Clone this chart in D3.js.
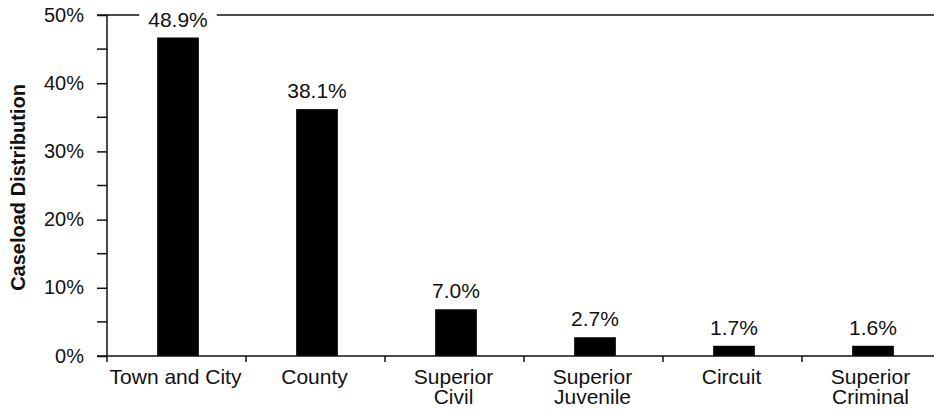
<!DOCTYPE html>
<html>
<head>
<meta charset="utf-8">
<script src="https://cdn.jsdelivr.net/npm/d3@7"></script>
<style>
  html, body { margin: 0; padding: 0; background: #fff; }
  svg { display: block; font-family: "Liberation Sans", Arial, sans-serif; }
</style>
</head>
<body>
<svg id="chart" width="934" height="410"></svg>
<script>
// ---- data ----
const categories = ["Town and City", "County", "Superior Civil", "Superior Juvenile", "Circuit", "Superior Criminal"];
const categoryLines = [["Town and City"], ["County"], ["Superior", "Civil"], ["Superior", "Juvenile"], ["Circuit"], ["Superior", "Criminal"]];
const barValues = [46.7, 36.2, 6.85, 2.75, 1.5, 1.5];
const valueLabels = ["48.9%", "38.1%", "7.0%", "2.7%", "1.7%", "1.6%"];
const yTickValues = [0, 10, 20, 30, 40, 50];
const yMinorTicks = [5, 15, 25, 35, 45];
const yTitle = "Caseload Distribution";

// ---- layout ----
const mLeft = 107, mRight = 941, mTop = 15, mBottom = 356;
const svg = d3.select("#chart");

const x = d3.scaleBand().domain(categories).range([mLeft, mRight]).padding(0);
const y = d3.scaleLinear().domain([0, 50]).range([mBottom, mTop]);
const bw = x.bandwidth();
const barW = bw * 0.3;

// top reference line at 50%
svg.append("line")
  .attr("x1", mLeft - 10).attr("x2", 934)
  .attr("y1", y(50)).attr("y2", y(50))
  .attr("stroke", "#111").attr("stroke-width", 1.5);

// bars
svg.selectAll("rect.bar").data(categories).enter().append("rect")
  .attr("class", "bar")
  .attr("x", (d) => x(d) + (bw - barW) / 2 + 1.5)
  .attr("width", barW)
  .attr("y", (d, i) => y(barValues[i]))
  .attr("height", (d, i) => y(0) - y(barValues[i]))
  .attr("fill", "#000");

// y axis
const yAxis = d3.axisLeft(y).tickValues(yTickValues).tickSize(10).tickPadding(13)
  .tickFormat((d) => d + "%");
const gy = svg.append("g").attr("transform", `translate(${mLeft},0)`).call(yAxis);
gy.select(".domain").attr("stroke", "#111").attr("stroke-width", 1.5)
  .attr("d", `M0,${y(0)}V${y(50)}`);
gy.selectAll(".tick line").attr("stroke", "#111").attr("stroke-width", 1.5);
gy.selectAll(".tick text").attr("font-size", 20).attr("fill", "#111")
  .attr("font-family", "Liberation Sans, Arial, sans-serif").attr("dy", "0.3em");
gy.selectAll("line.minor").data(yMinorTicks).enter().append("line")
  .attr("class", "minor")
  .attr("x1", -10).attr("x2", 0)
  .attr("y1", (d) => y(d)).attr("y2", (d) => y(d))
  .attr("stroke", "#111").attr("stroke-width", 1.5);

// x axis line and boundary ticks
svg.append("line")
  .attr("x1", mLeft - 10).attr("x2", 934)
  .attr("y1", y(0)).attr("y2", y(0))
  .attr("stroke", "#111").attr("stroke-width", 1.5);
svg.selectAll("line.xtick").data(categories).enter().append("line")
  .attr("class", "xtick")
  .attr("x1", (d) => x(d)).attr("x2", (d) => x(d))
  .attr("y1", y(0)).attr("y2", y(0) + 6)
  .attr("stroke", "#111").attr("stroke-width", 1.5);

// x labels
const xl = svg.selectAll("text.xlab").data(categories).enter().append("text")
  .attr("class", "xlab")
  .attr("text-anchor", "middle")
  .attr("font-size", 21)
  .attr("fill", "#111")
  .attr("x", (d) => x(d) + bw / 2 - 1)
  .attr("y", 384);
xl.each(function (d, i) {
  const t = d3.select(this);
  categoryLines[i].forEach((line, j) => {
    t.append("tspan").attr("x", x(d) + bw / 2 - 1).attr("dy", j === 0 ? 0 : 20).text(line);
  });
});

// value labels with white backing
const vl = svg.selectAll("g.vlab").data(categories).enter().append("g").attr("class", "vlab");
vl.each(function (d, i) {
  const g = d3.select(this);
  const cx = x(d) + bw / 2 + 1.5;
  const by = y(barValues[i]) - 11;
  const t = g.append("text")
    .attr("text-anchor", "middle")
    .attr("font-size", 21)
    .attr("fill", "#111")
    .attr("x", cx).attr("y", by)
    .text(valueLabels[i]);
  const bb = t.node().getBBox();
  g.insert("rect", "text")
    .attr("x", bb.x - 9).attr("y", bb.y)
    .attr("width", bb.width + 18).attr("height", bb.height)
    .attr("fill", "#fff");
});

// y title
svg.append("text")
  .attr("transform", `translate(25,${(mTop + mBottom) / 2 + 2}) rotate(-90)`)
  .attr("text-anchor", "middle")
  .attr("font-size", 20)
  .attr("font-weight", "bold")
  .attr("fill", "#111")
  .text(yTitle);
</script>
</body>
</html>
